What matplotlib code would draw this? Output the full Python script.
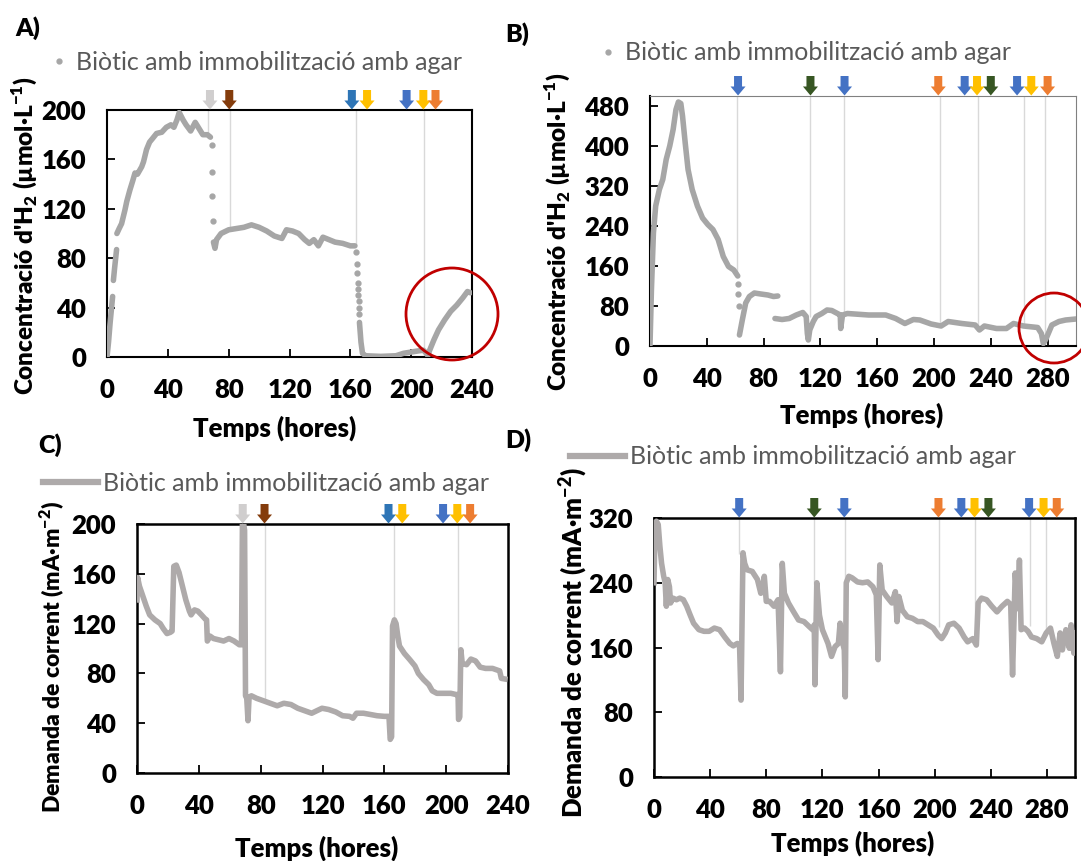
import numpy as np
import matplotlib
matplotlib.use('Agg')
import matplotlib.pyplot as plt
import matplotlib.transforms as mtransforms
from matplotlib.patches import Polygon, Ellipse
from matplotlib.lines import Line2D

plt.rcParams['font.family'] = ['Lato', 'DejaVu Sans']
plt.rcParams['font.weight'] = 'heavy'
plt.rcParams['mathtext.fontset'] = 'custom'
plt.rcParams['mathtext.rm'] = 'Lato'
plt.rcParams['mathtext.bf'] = 'Lato:heavy'

nan = np.nan

# ---- A) H2 concentration, run 1 (dots)
tA = [0, 1, 2, 3.7, nan, 4.2, 5, 6.3, nan, 6.5, 8, 9.6, 11.8, 13, 15, 17, 18.4, 20, 22.8, 24, 26, 28,
      30, 32.6, 36, 39, 42, 44, 46, 47.5, 50, 52, 55, 58, 60, 63, 66, 68, nan,
      70, 71, 72, 75, 80, 85, 90, 95, 100, 105, 110, 115, 118, 122, 126, 130, 133, 136, 139, 142,
      146, 150, 155, 160, 163, nan,
      166, 167, 168, 170, 180, 190, 195, 200, 205, 208, 210, 211, 212, 215, 218, 222, 226, 230,
      234, 237, 239]
cA = [0, 12, 27, 49, nan, 62, 72, 87, nan, 100, 104, 108, 119, 126, 135, 143, 149, 148, 154, 158, 168, 174,
      177, 181, 182, 186, 188, 186, 192, 198, 192, 188, 183, 190, 186, 180, 180, 178, nan,
      93, 88, 95, 100, 103, 104, 105, 107, 105, 102, 98, 96, 103, 102, 100, 95, 92, 95, 90, 97,
      95, 93, 92, 90, 90, nan,
      28, 12, 3, 1, 0.5, 1, 3, 4, 5, 5.5, 3, 1, 5, 14, 22, 30, 37, 42,
      48, 53, 52]
# isolated samples during the fast drops
tA_drop = [69, 69, 69, 69.5, 164, 164.5, 164.7, 165, 165.2, 165.3, 165.5, 165.6, 165.8]
cA_drop = [172, 150, 130, 110, 85, 75, 68, 60, 55, 50, 45, 40, 35]
A_events = [(67.7, 'gray'), (80.4, 'brown'), (161, 'blue2'), (171, 'yellow'),
            (197, 'blue'), (208, 'yellow'), (216, 'orange')]
A_lines_t = [66.5, 81, 163.7, 208.5]
A_lines_c = [180, 103, 90, 0]

# ---- B) H2 concentration, run 2 (dots)
tB = [0, 1, 2.4, 4, 6.6, 9, 11.4, 13.9, 16.3, 18.3, 20, 21.7, 22.9, 24.8, 26.8, 29.7, 33.4, 37,
      40.7, 44.3, 48, 51.6, 55.3, 59, 61.8, nan,
      63, 65, 67.4, 70, 73.5, 78, 83, 87, 90, nan,
      88, 93, 98, 103, 107.6, 110, 110.8, 111.5, 112.5, 115, 117, 121, 124.7, 128, 132, 134, 134.3,
      135, 135.6, 139, 144, 154, 166, 173, 179.5, 185.5, 190, 198, 205, 210, 219.6, 229, 232,
      235.5, 244, 251, 256, 263, 273, 275.6, 277, 279, 283, 288, 292.7, 300]
cB = [2, 112, 226, 280, 313, 333, 373, 400, 433, 473, 488, 485, 460, 406, 353, 313, 280, 256,
      243, 233, 213, 179, 159, 152, 140, nan,
      22, 52, 86, 99, 106, 104, 102, 99, 100, nan,
      55, 53, 55, 62, 67, 59, 25, 12, 32, 49, 59, 65, 72, 71, 65, 62, 35,
      50, 62, 65, 64, 62, 62, 55, 45, 53, 52, 44, 40, 49, 45, 42, 32,
      40, 35, 35, 45, 40, 37, 25, 5, 15, 42, 49, 52, 54]
tB_drop = [62, 62, 62.5]
cB_drop = [125, 105, 80]
B_events = [(62, 'blue'), (113, 'green'), (137, 'blue'), (203, 'orange'), (221.6, 'blue'),
            (230.3, 'yellow'), (240, 'green'), (258.5, 'blue'), (268.5, 'yellow'), (280, 'orange')]
B_lines_t = [61.4, 112.5, 136.8, 204, 231, 263.5, 278]
B_lines_c = [140, 59, 62, 42, 32, 45, 20]

# ---- C) current demand, run 1
tC = [0, 0.4, 1.6, 3.8, 6, 8.2, 11.6, 15, 17, 19.4, 21.6, 22.7, 23.8, 25.4, 27.2, 29.4, 31.6,
      33.9, 35, 37.2, 39.4, 41.7, 43.9, 45, 45.5, 47.2, 49.5, 52.8, 56, 59.5, 62.8, 66.2, 67.6,
      68.2, 69, 69.6, 70.2, 71, 71.8, 72.5, 74, 77.3, 81.8, 86.2, 90.7, 95, 99.6, 104, 108.5,
      113, 116.3, 119.7, 124, 128.6, 133, 137.5, 139.7, 142, 146.5, 151, 155.3, 160, 163, 163.8,
      164.7, 165.3, 166.5, 167.6, 168.7, 169.8, 173, 176.5, 179.8, 182, 185.4, 188.7, 191, 194,
      199, 203, 206.6, 207.7, 208, 208.8, 209.5, 210.4, 213.2, 216, 219, 222, 225.5, 230, 234.6,
      235.7, 238]
cC = [139, 157, 150, 142, 134, 127, 123, 120, 116, 112, 113, 114, 166, 167, 161, 150, 139,
      130, 127, 131, 130, 127, 124, 123, 106, 110, 108, 107, 106, 108, 106, 103, 103,
      200, 200, 195, 62, 60, 42, 61, 62, 60, 58, 56, 54, 56, 55, 52, 50,
      48, 50, 52, 51, 49, 46, 45.5, 44, 48, 48, 47, 46, 45.5, 45.5, 27,
      29, 118, 123, 120, 110, 102, 96, 91, 86, 80, 75, 71, 66, 64,
      64, 64, 63, 63, 43, 45, 99, 88, 87, 91.5, 90, 85, 84, 84, 82,
      76, 75.5]
C_events = [(68.4, 'gray'), (82.5, 'brown'), (162.7, 'blue2'), (171.6, 'yellow'),
            (198, 'blue'), (207.2, 'yellow'), (215.5, 'orange')]
C_lines_t = [82.5, 166, 207.7]
C_lines_c = [58, 120, 99]

# ---- D) current demand, run 2
tD = [0, 0.7, 1.7, 3, 4.2, 5.4, 6.9, 7.9, 8.8, 9.8, 11, 11.8, 13.5, 16, 18.4, 20.9, 23.3, 25.8,
      28.2, 32, 35.6, 39.3, 43, 46.7, 50.4, 54, 56.5, 59.4, 61, 62, 63.4, 64.6, 66.3, 70, 73.7,
      76.1, 77.4, 78.6, 80, 82.3, 85.5, 88.4, 90.1, 91.4, 92.9, 95.8, 99.5, 103, 106.9, 110.5,
      113, 114.2, 114.7, 116, 117.9, 120, 124, 126.5, 129, 131.4, 132.6, 134.6, 135.6, 136.3,
      137, 138.8, 141.2, 145, 148.6, 152.3, 156, 158.4, 159.7, 160.9, 162.6, 165.8, 169.5, 172,
      173.2, 174.5, 177, 180.5, 184.2, 187.9, 191.6, 195.3, 199, 202.6, 205, 207.6, 210, 213.7,
      217.4, 221, 223.5, 227.2, 229.7, 231, 233.4, 237, 240.7, 244.4, 248, 251.8, 254.2, 255.5,
      257.4, 259.2, 260.4, 261.6, 264, 266.5, 269, 272.7, 276.3, 279.5, 282.5, 285, 287.4, 289.4,
      291, 293.5, 296, 297.2, 299.2, 300]
cD = [240, 305, 316, 312, 285, 264, 248, 241, 211, 244, 235, 215, 221, 219, 221, 219, 211, 200,
      190, 182, 180, 180, 184, 182, 173, 165, 162, 165, 161, 95, 277, 264, 256, 254, 244,
      227, 235, 248, 217, 217, 211, 219, 130, 264, 227, 215, 204, 194, 192, 186,
      182, 188, 114, 240, 200, 182, 165, 149, 161, 165, 190, 165, 157, 99,
      240, 248, 246, 241, 240, 241, 235, 225, 145, 262, 231, 223, 215, 229,
      192, 223, 206, 198, 196, 192, 192, 188, 184, 175, 171, 178, 188, 190,
      184, 173, 167, 171, 163, 215, 221, 219, 211, 204, 211, 217, 213, 126,
      252, 208, 268, 182, 184, 180, 173, 171, 167, 178, 184, 165, 149, 178,
      157, 182, 159, 188, 153, 178]
D_events = [(60.7, 'blue'), (114.2, 'green'), (135.6, 'blue'), (202.7, 'orange'), (219, 'blue'),
            (228.4, 'yellow'), (238.3, 'green'), (267.3, 'blue'), (277.6, 'yellow'), (287, 'orange')]
D_lines_t = [60.9, 114.2, 136.3, 203, 229, 267.7, 279.5]
D_lines_c = [275, 238, 240, 185, 165, 186, 182]

label = 'Biòtic amb immobilització amb agar'
arrow_colors = {'gray': '#D0CECE', 'brown': '#843C0C', 'blue': '#4472C4', 'blue2': '#2E75B6',
                'yellow': '#FFC000', 'orange': '#ED7D31', 'green': '#375623'}
dot_gray = '#A6A6A6'
line_gray = '#AEAAAA'

W, H = 1081, 861
fig = plt.figure(figsize=(W / 100, H / 100), dpi=100)


def px_axes(l, t, r, b):
    return fig.add_axes([l / W, 1 - b / H, (r - l) / W, (b - t) / H])


def add_events(ax, events, lines_t, lines_c, top):
    ax.vlines(lines_t, lines_c, top, colors='#D9D9D9', lw=1.0, zorder=1)
    base = mtransforms.blended_transform_factory(ax.transData, ax.transAxes)
    shape = [(-0.04, 0.20), (0.04, 0.20), (0.04, 0.095), (0.075, 0.095), (0, 0.005),
             (-0.075, 0.095), (-0.04, 0.095)]
    for x, kind in events:
        tr = fig.dpi_scale_trans + mtransforms.ScaledTranslation(x, 1.0, base)
        ax.add_patch(Polygon(shape, closed=True, transform=tr, facecolor=arrow_colors[kind],
                             edgecolor='none', clip_on=False, zorder=6))


def style(ax, xlim, xticks, ylim, yticks, spine_w=1.5):
    ax.set_xlim(*xlim)
    ax.set_ylim(*ylim)
    ax.set_xticks(xticks)
    ax.set_yticks(yticks)
    ax.tick_params(direction='in', length=6, width=1.3, labelsize=18.5, pad=15, colors='black')
    for s in ax.spines.values():
        s.set_linewidth(spine_w)
        s.set_color('black')


def add_legend(ax, handle, x, y, hl, hpad):
    ax.legend([handle], [label], loc='center left', bbox_to_anchor=(x / W, 1 - y / H),
              bbox_transform=fig.transFigure, frameon=False, borderpad=0, borderaxespad=0,
              handlelength=hl, handletextpad=hpad,
              prop={'size': 18, 'weight': 'normal', 'family': ['Lato', 'DejaVu Sans']},
              labelcolor='#595959')


ylab_h2 = "Concentració d'H$_\\mathbf{2}$ (µmol·L$^\\mathbf{-1}$)"
ylab_i = 'Demanda de corrent (mA·m$^\\mathbf{-2}$)'

# A
axA = px_axes(107, 110, 472, 357)
axA.plot(tA, cA, color=dot_gray, lw=4, solid_capstyle='round', zorder=3)
axA.plot(tA_drop, cA_drop, 'o', color=dot_gray, ms=3.5, zorder=3)
add_events(axA, A_events, A_lines_t, A_lines_c, 200)
style(axA, (0, 240), range(0, 241, 40), (0, 200), range(0, 201, 40))
add_legend(axA, Line2D([], [], ls='none', marker='o', ms=3.5, color=dot_gray), 51, 62, 0.6, 0.4)

# B
axB = px_axes(650, 96, 1076, 346)
axB.plot(tB, cB, color=dot_gray, lw=4, solid_capstyle='round', zorder=3)
axB.plot(tB_drop, cB_drop, 'o', color=dot_gray, ms=3.5, zorder=3)
add_events(axB, B_events, B_lines_t, B_lines_c, 500)
style(axB, (0, 300), range(0, 281, 40), (0, 500), range(0, 481, 80))
axB.spines['top'].set_color('#808080')
axB.spines['right'].set_color('#808080')
axB.spines['top'].set_linewidth(0.8)
axB.spines['right'].set_linewidth(0.8)
add_legend(axB, Line2D([], [], ls='none', marker='o', ms=3.5, color=dot_gray), 600, 53, 0.6, 0.4)

# C
axC = px_axes(137, 524, 508, 773)
axC.plot(tC, cC, color=line_gray, lw=4, zorder=3)
add_events(axC, C_events, C_lines_t, C_lines_c, 200)
style(axC, (0, 240), range(0, 241, 40), (0, 200), range(0, 201, 40), spine_w=1.8)
add_legend(axC, Line2D([], [], color=line_gray, lw=4.5), 43, 483, 2.2, 0.2)

# D
axD = px_axes(654, 518, 1075, 777)
axD.plot(tD, cD, color=line_gray, lw=4, zorder=3)
add_events(axD, D_events, D_lines_t, D_lines_c, 320)
style(axD, (0, 300), range(0, 281, 40), (0, 320), range(0, 321, 80), spine_w=1.8)
add_legend(axD, Line2D([], [], color=line_gray, lw=4.5), 570, 457, 2.2, 0.2)

# axis titles
for x, y, txt, fs in [(24, 236, ylab_h2, 17.5), (557, 232, ylab_h2, 17.5),
                      (52, 657, ylab_i, 16.5), (573, 643, ylab_i, 18.5)]:
    fig.text(x / W, 1 - y / H, txt, rotation=90, ha='center', va='center', fontsize=fs)
for x, y in [(275, 428), (862, 415), (317, 848), (853, 843)]:
    fig.text(x / W, 1 - y / H, 'Temps (hores)', ha='center', va='center', fontsize=18.5)
for x, y, txt in [(15, 28, 'A)'), (505, 34, 'B)'), (38, 445, 'C)'), (505, 440, 'D)')]:
    fig.text(x / W, 1 - y / H, txt, ha='left', va='center', fontsize=18)

# highlighted regions
for cx, cy, r in [(452, 314, 46), (1054, 328, 35)]:
    fig.add_artist(Ellipse((cx / W, 1 - cy / H), 2 * r / W, 2 * r / H, transform=fig.transFigure,
                           fill=False, edgecolor='#C00000', lw=2))

fig.savefig('out.png', dpi=100)
